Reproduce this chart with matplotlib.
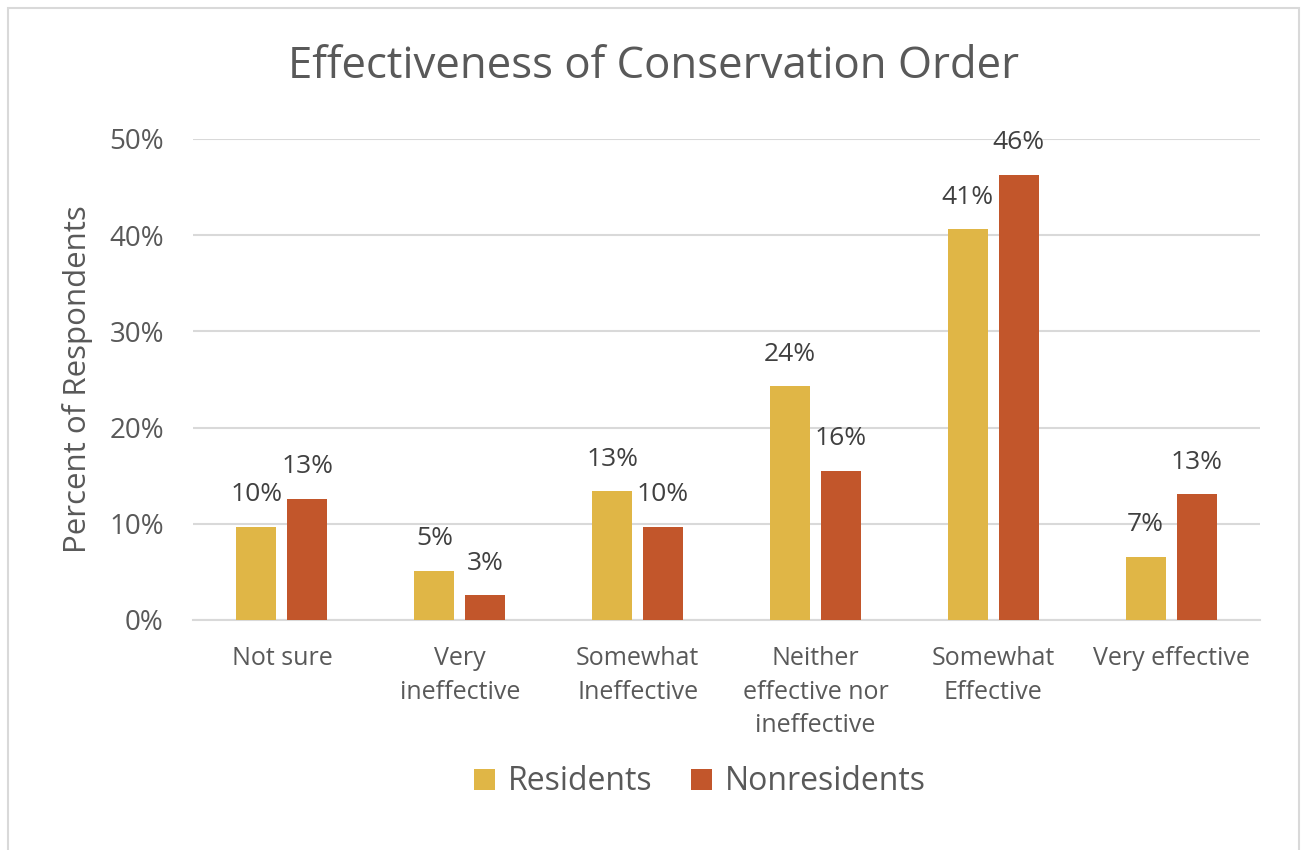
import matplotlib.pyplot as plt
import numpy as np
from matplotlib.patches import Rectangle

plt.rcParams['font.family'] = ['Open Sans', 'DejaVu Sans']

categories = ['Not sure', 'Very\nineffective', 'Somewhat\nIneffective',
              'Neither\neffective nor\nineffective', 'Somewhat\nEffective', 'Very effective']
residents = [9.7, 5.1, 13.4, 24.3, 40.6, 6.6]
nonresidents = [12.6, 2.6, 9.7, 15.5, 46.3, 13.1]
residents_labels = ['10%', '5%', '13%', '24%', '41%', '7%']
nonresidents_labels = ['13%', '3%', '10%', '16%', '46%', '13%']

text_color = '#595959'
yellow = '#E0B646'
red = '#C2562B'

fig = plt.figure(figsize=(13.02, 8.5), dpi=100)
ax = fig.add_axes([193 / 1302, 1 - 620 / 850, (1260 - 193) / 1302, (620 - 139) / 850])

x = np.arange(len(categories))
width = 0.225
off = 0.143
b1 = ax.bar(x - off, residents, width, color=yellow, label='Residents', zorder=3)
b2 = ax.bar(x + off, nonresidents, width, color=red, label='Nonresidents', zorder=3)

for bars, labels in ((b1, residents_labels), (b2, nonresidents_labels)):
    for bar, lab in zip(bars, labels):
        ax.annotate(lab, (bar.get_x() + bar.get_width() / 2, bar.get_height()),
                    xytext=(0, 14), textcoords='offset points', ha='center', va='bottom',
                    fontsize=19, color='#404040')

ax.set_xlim(-0.5, len(categories) - 0.5)
ax.set_ylim(0, 50)
ax.set_yticks([0, 10, 20, 30, 40, 50])
ax.set_yticklabels(['0%', '10%', '20%', '30%', '40%', '50%'])
ax.set_xticks(x)
ax.set_xticklabels(categories, linespacing=1.45)
ax.tick_params(axis='y', length=0, pad=21, labelsize=20, labelcolor=text_color)
ax.tick_params(axis='x', length=0, pad=19, labelsize=18, labelcolor=text_color)
for lab in ax.get_xticklabels():
    lab.set_verticalalignment('top')
ax.grid(axis='y', color='#D9D9D9', linewidth=1.5, zorder=0)
for s in ['top', 'right', 'left']:
    ax.spines[s].set_visible(False)
ax.spines['bottom'].set_color('#D9D9D9')
ax.spines['bottom'].set_linewidth(1.5)

ax.set_ylabel('Percent of Respondents', fontsize=22.5, color=text_color, labelpad=12)
fig.text(0.5 * (290 + 1017) / 1302, 1 - 67 / 850, 'Effectiveness of Conservation Order',
         ha='center', va='center', fontsize=31.5, color=text_color)

fig.legend(handles=[b1, b2], loc='center', bbox_to_anchor=(700 / 1302, 1 - 782 / 850),
           ncol=2, frameon=False, fontsize=23, labelcolor=text_color,
           handlelength=0.65, handleheight=0.65, handletextpad=0.4, columnspacing=1.2)

fig.patches.append(Rectangle((8 / 1302, -0.01), (1299 - 8) / 1302, 1 - 8 / 850 + 0.01,
                             transform=fig.transFigure, fill=False,
                             edgecolor='#D9D9D9', linewidth=1.5))

fig.savefig('out.png', dpi=100)
